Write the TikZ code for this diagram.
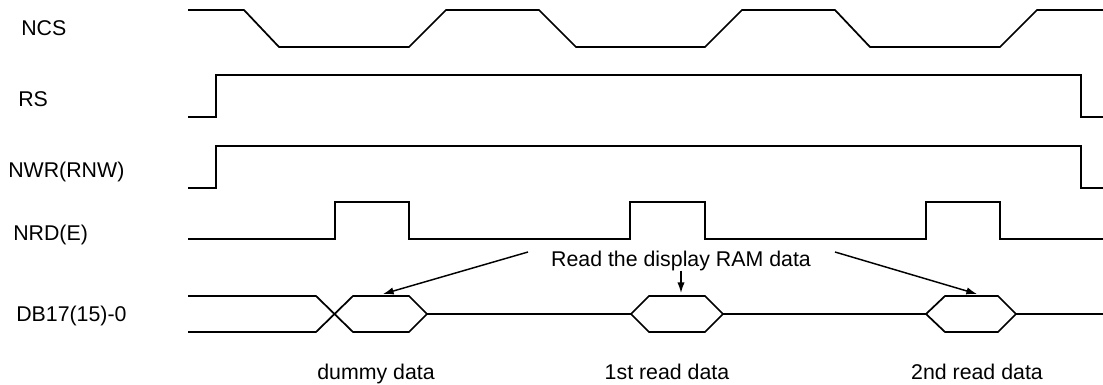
\documentclass[tikz,border=0pt]{standalone}
\usepackage{fontspec}
\setmainfont{Liberation Sans}
\usetikzlibrary{arrows.meta}

\begin{document}
\begin{tikzpicture}[x=0.75pt, y=-0.75pt,
        signal/.style={line width=1.3pt, line join=miter},
        sig_label/.style={anchor=base west, inner sep=0pt, font=\fontsize{16}{19}\selectfont},
        data_label/.style={anchor=base, inner sep=0pt, font=\fontsize{16}{19}\selectfont},
        pointer/.style={line width=1.1pt, -{Latex[length=8pt, width=5.5pt]}}
    ]
    \useasboundingbox (0,0) rectangle (1103,385);

    % --- NCS ---
    \node[sig_label] (ncs) at (21,36) {NCS};
    \draw[signal] (188,10) -- (244,10) -- (279,47) -- (409,47) -- (446,10) -- (539,10)
        -- (576,47) -- (705,47) -- (742,10) -- (835,10) -- (870,47) -- (1000,47)
        -- (1037,10) -- (1103,10);

    % --- RS ---
    \node[sig_label] (rs) at (18,107) {RS};
    \draw[signal] (188,117) -- (216,117) -- (216,75) -- (1081,75) -- (1081,117) -- (1103,117);

    % --- NWR(RNW) ---
    \node[sig_label] (nwr) at (8,177) {NWR(RNW)};
    \draw[signal] (188,188) -- (216,188) -- (216,146) -- (1081,146) -- (1081,188) -- (1103,188);

    % --- NRD(E) ---
    \node[sig_label] (nrd) at (13,240) {NRD(E)};
    \draw[signal] (188,239) -- (335,239) -- (335,202) -- (409,202) -- (409,239)
        -- (630,239) -- (630,202) -- (705,202) -- (705,239)
        -- (926,239) -- (926,202) -- (1000,202) -- (1000,239) -- (1103,239);

    % --- DB17(15)-0 ---
    \node[sig_label] (db) at (16,321) {DB17(15)-0};
    % dummy
    \draw[signal] (188,296) -- (316,296) -- (353,332) -- (409,332) -- (427,314)
        -- (409,296) -- (353,296) -- (316,332) -- (188,332);
    % 1st read
    \draw[signal] (427,314) -- (631,314) -- (649,296) -- (705,296) -- (723,314)
        -- (705,332) -- (649,332) -- (631,314);
    % 2nd read
    \draw[signal] (723,314) -- (926,314) -- (945,296) -- (998,296) -- (1016,314)
        -- (998,332) -- (945,332) -- (926,314);
    \draw[signal] (1016,314) -- (1103,314);

    % Annotazione
    \node[data_label] (readnote) at (681,266) {Read the display RAM data};
    \coordinate (read_left) at (528,252);
    \coordinate (read_right) at (835,252);
    \coordinate (dummy_top) at (383,294);
    \coordinate (first_top) at (681,293);
    \coordinate (second_top) at (977,294);

    \draw[pointer] (read_left) -- (dummy_top);
    \draw[pointer] (readnote.south) -- (first_top);
    \draw[pointer] (read_right) -- (second_top);

    \node[data_label] (dummy) at (376,379) {dummy data};
    \node[data_label] (first) at (667,379) {1st read data};
    \node[data_label] (second) at (977,379) {2nd read data};

\end{tikzpicture}
\end{document}
